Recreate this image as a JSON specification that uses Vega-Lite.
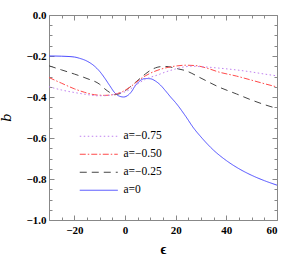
{
  "$schema": "https://vega.github.io/schema/vega-lite/v6.json",
  "width": 228,
  "height": 205,
  "autosize": "none",
  "padding": {"left": 49, "top": 15, "right": 7, "bottom": 36},
  "background": "white",
  "config": {
    "view": {"stroke": null},
    "font": "Liberation Serif",
    "legend": {
      "orient": "none", "legendX": 44, "legendY": 115.5,
      "symbolType": "M-3.8,0H3.8", "symbolSize": 100, "symbolStrokeWidth": 1,
      "labelFont": "Liberation Serif", "labelFontSize": 11.5, "labelColor": "black",
      "labelOffset": 19, "rowPadding": 5, "padding": 0
    }
  },
  "data": {"values": [
    {"x": -30, "y": -0.200, "a": "a=0"},
    {"x": -25, "y": -0.201, "a": "a=0"},
    {"x": -20, "y": -0.205, "a": "a=0"},
    {"x": -18, "y": -0.211, "a": "a=0"},
    {"x": -15, "y": -0.225, "a": "a=0"},
    {"x": -12, "y": -0.250, "a": "a=0"},
    {"x": -10, "y": -0.275, "a": "a=0"},
    {"x": -8, "y": -0.308, "a": "a=0"},
    {"x": -6, "y": -0.345, "a": "a=0"},
    {"x": -4, "y": -0.380, "a": "a=0"},
    {"x": -2, "y": -0.397, "a": "a=0"},
    {"x": -0.5, "y": -0.400, "a": "a=0"},
    {"x": 1, "y": -0.393, "a": "a=0"},
    {"x": 2.5, "y": -0.375, "a": "a=0"},
    {"x": 4, "y": -0.346, "a": "a=0"},
    {"x": 6, "y": -0.320, "a": "a=0"},
    {"x": 8, "y": -0.310, "a": "a=0"},
    {"x": 10, "y": -0.311, "a": "a=0"},
    {"x": 12, "y": -0.322, "a": "a=0"},
    {"x": 14, "y": -0.342, "a": "a=0"},
    {"x": 16, "y": -0.370, "a": "a=0"},
    {"x": 18, "y": -0.400, "a": "a=0"},
    {"x": 20, "y": -0.428, "a": "a=0"},
    {"x": 24, "y": -0.495, "a": "a=0"},
    {"x": 27, "y": -0.550, "a": "a=0"},
    {"x": 30, "y": -0.595, "a": "a=0"},
    {"x": 35, "y": -0.660, "a": "a=0"},
    {"x": 40, "y": -0.710, "a": "a=0"},
    {"x": 45, "y": -0.750, "a": "a=0"},
    {"x": 50, "y": -0.782, "a": "a=0"},
    {"x": 55, "y": -0.808, "a": "a=0"},
    {"x": 60, "y": -0.830, "a": "a=0"},

    {"x": -30, "y": -0.248, "a": "a=−0.25"},
    {"x": -25, "y": -0.268, "a": "a=−0.25"},
    {"x": -20, "y": -0.288, "a": "a=−0.25"},
    {"x": -15, "y": -0.310, "a": "a=−0.25"},
    {"x": -10, "y": -0.338, "a": "a=−0.25"},
    {"x": -8, "y": -0.360, "a": "a=−0.25"},
    {"x": -6, "y": -0.378, "a": "a=−0.25"},
    {"x": -4, "y": -0.389, "a": "a=−0.25"},
    {"x": -2, "y": -0.383, "a": "a=−0.25"},
    {"x": 0, "y": -0.370, "a": "a=−0.25"},
    {"x": 2, "y": -0.351, "a": "a=−0.25"},
    {"x": 4, "y": -0.330, "a": "a=−0.25"},
    {"x": 6, "y": -0.309, "a": "a=−0.25"},
    {"x": 8, "y": -0.288, "a": "a=−0.25"},
    {"x": 10, "y": -0.270, "a": "a=−0.25"},
    {"x": 12, "y": -0.258, "a": "a=−0.25"},
    {"x": 14, "y": -0.252, "a": "a=−0.25"},
    {"x": 16, "y": -0.251, "a": "a=−0.25"},
    {"x": 18, "y": -0.254, "a": "a=−0.25"},
    {"x": 20, "y": -0.260, "a": "a=−0.25"},
    {"x": 24, "y": -0.272, "a": "a=−0.25"},
    {"x": 30, "y": -0.308, "a": "a=−0.25"},
    {"x": 37, "y": -0.351, "a": "a=−0.25"},
    {"x": 44, "y": -0.385, "a": "a=−0.25"},
    {"x": 50, "y": -0.415, "a": "a=−0.25"},
    {"x": 55, "y": -0.437, "a": "a=−0.25"},
    {"x": 60, "y": -0.456, "a": "a=−0.25"},

    {"x": -30, "y": -0.305, "a": "a=−0.50"},
    {"x": -25, "y": -0.333, "a": "a=−0.50"},
    {"x": -20, "y": -0.360, "a": "a=−0.50"},
    {"x": -16, "y": -0.377, "a": "a=−0.50"},
    {"x": -12, "y": -0.389, "a": "a=−0.50"},
    {"x": -8, "y": -0.392, "a": "a=−0.50"},
    {"x": -5, "y": -0.389, "a": "a=−0.50"},
    {"x": -3, "y": -0.383, "a": "a=−0.50"},
    {"x": -1, "y": -0.374, "a": "a=−0.50"},
    {"x": 0, "y": -0.367, "a": "a=−0.50"},
    {"x": 2, "y": -0.352, "a": "a=−0.50"},
    {"x": 4, "y": -0.332, "a": "a=−0.50"},
    {"x": 6, "y": -0.313, "a": "a=−0.50"},
    {"x": 8, "y": -0.297, "a": "a=−0.50"},
    {"x": 10, "y": -0.284, "a": "a=−0.50"},
    {"x": 13, "y": -0.269, "a": "a=−0.50"},
    {"x": 16, "y": -0.258, "a": "a=−0.50"},
    {"x": 20, "y": -0.249, "a": "a=−0.50"},
    {"x": 24, "y": -0.245, "a": "a=−0.50"},
    {"x": 28, "y": -0.247, "a": "a=−0.50"},
    {"x": 32, "y": -0.258, "a": "a=−0.50"},
    {"x": 37, "y": -0.278, "a": "a=−0.50"},
    {"x": 44, "y": -0.298, "a": "a=−0.50"},
    {"x": 50, "y": -0.318, "a": "a=−0.50"},
    {"x": 55, "y": -0.335, "a": "a=−0.50"},
    {"x": 60, "y": -0.351, "a": "a=−0.50"},

    {"x": -30, "y": -0.350, "a": "a=−0.75"},
    {"x": -25, "y": -0.366, "a": "a=−0.75"},
    {"x": -20, "y": -0.378, "a": "a=−0.75"},
    {"x": -15, "y": -0.388, "a": "a=−0.75"},
    {"x": -11, "y": -0.394, "a": "a=−0.75"},
    {"x": -7, "y": -0.393, "a": "a=−0.75"},
    {"x": -4, "y": -0.386, "a": "a=−0.75"},
    {"x": -1, "y": -0.378, "a": "a=−0.75"},
    {"x": 0, "y": -0.375, "a": "a=−0.75"},
    {"x": 2, "y": -0.362, "a": "a=−0.75"},
    {"x": 4, "y": -0.345, "a": "a=−0.75"},
    {"x": 6, "y": -0.328, "a": "a=−0.75"},
    {"x": 8, "y": -0.314, "a": "a=−0.75"},
    {"x": 10, "y": -0.304, "a": "a=−0.75"},
    {"x": 13, "y": -0.292, "a": "a=−0.75"},
    {"x": 16, "y": -0.278, "a": "a=−0.75"},
    {"x": 20, "y": -0.263, "a": "a=−0.75"},
    {"x": 23, "y": -0.254, "a": "a=−0.75"},
    {"x": 26, "y": -0.250, "a": "a=−0.75"},
    {"x": 30, "y": -0.252, "a": "a=−0.75"},
    {"x": 37, "y": -0.259, "a": "a=−0.75"},
    {"x": 44, "y": -0.268, "a": "a=−0.75"},
    {"x": 50, "y": -0.278, "a": "a=−0.75"},
    {"x": 55, "y": -0.288, "a": "a=−0.75"},
    {"x": 60, "y": -0.297, "a": "a=−0.75"}
  ]},
  "layer": [
    {
      "mark": {"type": "line", "interpolate": "monotone", "strokeWidth": 1, "clip": true},
      "encoding": {
        "x": {
          "field": "x", "type": "quantitative",
          "scale": {"domain": [-30, 60], "nice": false, "zero": false},
          "axis": {
            "orient": "bottom",
            "title": "ϵ",
            "titleFont": "Liberation Serif", "titleFontWeight": "bold", "titleFontSize": 14,
            "titleColor": "black", "titleBaseline": "alphabetic", "titleY": 33,
            "values": [-30, -25, -20, -15, -10, -5, 0, 5, 10, 15, 20, 25, 30, 35, 40, 45, 50, 55, 60],
            "labelExpr": "(datum.value + 40) % 20 == 0 ? format(datum.value, 'd') : ''",
            "labelFont": "Liberation Serif", "labelFontWeight": "bold", "labelFontSize": 11,
            "labelColor": "black", "labelPadding": 9,
            "tickSize": {"condition": {"test": "(datum.value + 40) % 20 == 0", "value": -5}, "value": -3},
            "tickColor": "#888", "domainColor": "#888", "grid": false
          }
        },
        "y": {
          "field": "y", "type": "quantitative",
          "scale": {"domain": [-1, 0], "nice": false, "zero": false},
          "axis": {
            "orient": "left",
            "title": "b̅",
            "titleFont": "DejaVu Serif", "titleFontStyle": "italic", "titleFontWeight": "normal", "titleFontSize": 13,
            "titleColor": "black", "titleX": -43, "titleY": 102, "titleAngle": -90, "titleBaseline": "middle",
            "values": [-1, -0.95, -0.9, -0.85, -0.8, -0.75, -0.7, -0.65, -0.6, -0.55, -0.5, -0.45, -0.4, -0.35, -0.3, -0.25, -0.2, -0.15, -0.1, -0.05, 0],
            "labelExpr": "abs(datum.value * 5 - round(datum.value * 5)) < 0.001 ? format(datum.value, '.1f') : ''",
            "labelFont": "Liberation Serif", "labelFontWeight": "bold", "labelFontSize": 11,
            "labelColor": "black", "labelPadding": 8,
            "tickSize": {"condition": {"test": "abs(datum.value * 5 - round(datum.value * 5)) < 0.001", "value": -5}, "value": -3},
            "tickColor": "#888", "domainColor": "#888", "grid": false
          }
        },
        "color": {
          "field": "a", "type": "nominal",
          "scale": {"domain": ["a=−0.75", "a=−0.50", "a=−0.25", "a=0"], "range": ["#c080f0", "#ff4a4a", "#444444", "#4a4aff"]},
          "legend": {"title": null}
        },
        "strokeDash": {
          "field": "a", "type": "nominal",
          "scale": {"domain": ["a=−0.75", "a=−0.50", "a=−0.25", "a=0"], "range": [[1.5, 2.5], [6, 2, 1.5, 2], [7, 5], [1, 0]]},
          "legend": {"title": null}
        }
      }
    },
    {
      "mark": {"type": "line", "opacity": 0},
      "encoding": {
        "x": {
          "field": "x", "type": "quantitative",
          "axis": {
            "orient": "top", "title": null, "labels": false,
            "values": [-30, -25, -20, -15, -10, -5, 0, 5, 10, 15, 20, 25, 30, 35, 40, 45, 50, 55, 60],
            "tickSize": {"condition": {"test": "(datum.value + 40) % 20 == 0", "value": -5}, "value": -3},
            "tickColor": "#888", "domainColor": "#888", "grid": false
          }
        },
        "y": {
          "field": "y", "type": "quantitative",
          "axis": {
            "orient": "right", "title": null, "labels": false,
            "values": [-1, -0.95, -0.9, -0.85, -0.8, -0.75, -0.7, -0.65, -0.6, -0.55, -0.5, -0.45, -0.4, -0.35, -0.3, -0.25, -0.2, -0.15, -0.1, -0.05, 0],
            "tickSize": {"condition": {"test": "abs(datum.value * 5 - round(datum.value * 5)) < 0.001", "value": -5}, "value": -3},
            "tickColor": "#888", "domainColor": "#888", "grid": false
          }
        }
      }
    }
  ],
  "resolve": {"axis": {"x": "independent", "y": "independent"}}
}
